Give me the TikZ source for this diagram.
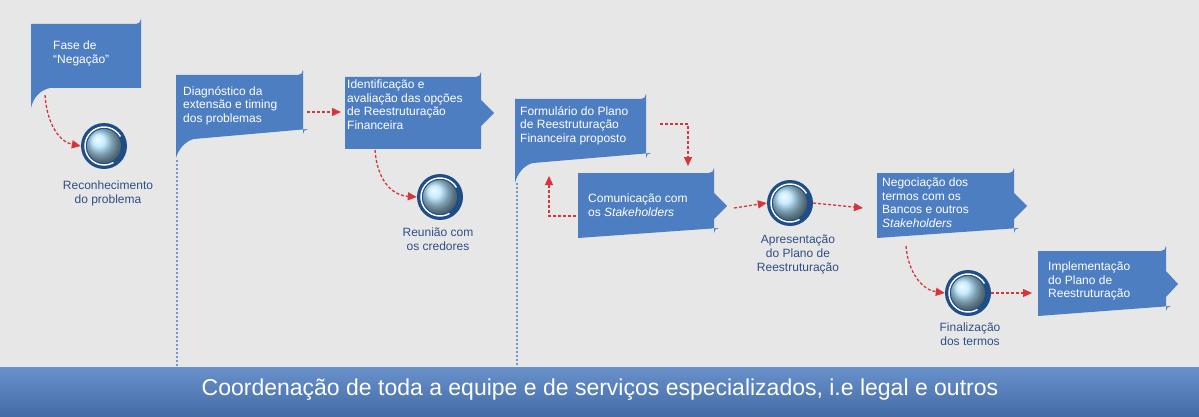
\documentclass[tikz,border=0pt]{standalone}
\usepackage{fontspec}
\setmainfont{Liberation Sans}
\usetikzlibrary{arrows.meta,shadings,calc}
\definecolor{bg}{HTML}{E7E7E8}
\definecolor{boxb}{HTML}{4E7EC2}
\definecolor{arr}{HTML}{D8343C}
\definecolor{ringb}{HTML}{1F4E86}
\definecolor{txtb}{HTML}{2E4F86}
\tikzset{
 lbl/.style={text=white,font=\fontsize{12}{13.5}\selectfont,align=left,anchor=north west,inner sep=0pt},
 caplbl/.style={text=txtb,font=\fontsize{12}{14}\selectfont,align=center,anchor=north,inner sep=0pt},
 conn/.style={arr,densely dashed,line width=1.3pt,-{Triangle[length=9pt,width=8pt]}},
 vdot/.style={boxb!80,line width=2.2pt,dash pattern=on 2pt off 2pt},
}
\newcommand{\ballat}[2]{%
 \fill[ringb] (#1) circle (23);
 \shade[ball color=blue!35!cyan!30!white] (#1) circle (17);
 \draw[white,line width=1.4pt] ($(#1)+(60:19)$) arc (60:330:19);
 \node[circle,inner sep=0pt,minimum size=46pt] (#2) at (#1) {};}
\begin{document}
\begin{tikzpicture}[x=1pt,y=-1pt]
\useasboundingbox (0,0) rectangle (1199,417);
\fill[bg] (0,0) rectangle (1199,417);
% dotted lines
\draw[vdot] (177,160) -- (177,367);
\draw[vdot] (517,183) -- (517,367);
% bottom band
\shade[top color=boxb!85!white,bottom color=boxb!85!black] (0,367) rectangle (1199,417);
\node[text=white,font=\fontsize{23}{26}\selectfont] (band) at (600,390) {Coordenação de toda a equipe e de serviços especializados, i.e legal e outros};
% boxes with tails
\fill[boxb] (31,108) -- (31,24) -- (136,24) arc (90:0:5) -- (141,88) -- (50,88) .. controls (40,90) and (33,98) .. cycle;
\fill[boxb] (176,158) -- (176,75) -- (298,75) arc (90:0:5) -- (303,134) arc (0:90:-5) -- (194,139) .. controls (185,141) and (178,150) .. cycle;
\fill[boxb] (515,183) -- (515,99) -- (641,99) arc (90:0:5) -- (646,158) arc (0:90:-5) -- (533,163) .. controls (524,165) and (517,174) .. cycle;
% boxes with pointers
\fill[boxb] (345,77) -- (476,77) arc (90:0:5) -- (481,100) -- (494,113) -- (481,126) -- (481,149) -- (345,149) -- cycle;
\fill[boxb] (578,173) -- (709,173) arc (90:0:5) -- (714,193) -- (727,206) -- (714,219) -- (714,233) arc (0:90:-5) -- (578,238) -- cycle;
\fill[boxb] (877,173) -- (1009,173) arc (90:0:5) -- (1014,193) -- (1027,206) -- (1014,219) -- (1014,233) arc (0:90:-5) -- (877,238) -- cycle;
\fill[boxb] (1038,251) -- (1161,251) arc (90:0:5) -- (1166,271) -- (1178,284) -- (1166,297) -- (1166,311) arc (0:90:-5) -- (1038,316) -- cycle;
% box texts
\node[lbl] (t1) at (53,41) {Fase de\\“Negação”};
\node[lbl] (t2) at (183,86) {Diagnóstico da\\extensão e timing\\dos problemas};
\node[lbl] (t3) at (347,80) {Identificação e\\avaliação das opções\\de Reestruturação\\Financeira};
\node[lbl] (t4) at (520,106) {Formulário do Plano\\de Reestruturação\\Financeira proposto};
\node[lbl] (t5) at (588,194) {Comunicação com\\os \textit{Stakeholders}};
\node[lbl] (t6) at (882,178) {Negociação dos\\termos com os\\Bancos e outros\\\textit{Stakeholders}};
\node[lbl] (t7) at (1048,262) {Implementação\\do Plano de\\Reestruturação};
% balls
\ballat{104,146}{c1}
\ballat{440,197}{c2}
\ballat{790,203}{c3}
\ballat{968,293}{c4}
\node[caplbl] (l1) at (108,181) {Reconhecimento\\do problema};
\node[caplbl] (l2) at (438,228) {Reunião com\\os credores};
\node[caplbl] (l3) at (798,235) {Apresentação\\do Plano de\\Reestruturação};
\node[caplbl] (l4) at (970,323) {Finalização\\dos termos};
% connectors
\coordinate (a1) at (45,95);
\coordinate (a2) at (375,150);
\coordinate (a3) at (906,246);
\coordinate (b4) at (660,124);
\coordinate (b5) at (688,124);
\coordinate (b6) at (576,216);
\coordinate (b7) at (549,216);
\draw[conn] (a1) .. controls (47,125) and (60,142) .. (c1.west);
\draw[conn] (307,112) -- (341,112);
\draw[conn] (a2) .. controls (377,178) and (390,195) .. (c2.west);
\draw[conn] (b4) -- (b5) -- (688,166);
\draw[conn] (b6) -- (b7) -- (549,176);
\draw[conn] (734,208) -- (c3.west);
\draw[conn] (c3.east) -- (863,208);
\draw[conn] (a3) .. controls (908,272) and (922,290) .. (c4.west);
\draw[conn] (c4.east) -- (1032,293);
\end{tikzpicture}
\end{document}
